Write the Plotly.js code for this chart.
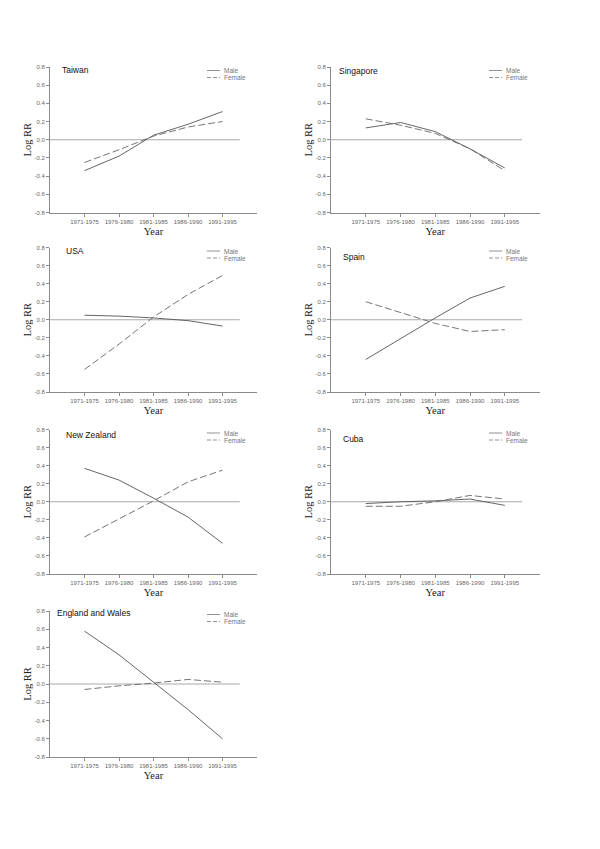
<!DOCTYPE html>
<html>
<head>
<meta charset="utf-8">
<script src="https://cdn.plot.ly/plotly-3.0.1.min.js"></script>
<style>html,body{margin:0;padding:0;background:#fff;}#chart{width:600px;height:849px;}</style>
</head>
<body>
<div id="chart"></div>
<script>
// ---- data ----
const periods = ['1971-1975', '1976-1980', '1981-1985', '1986-1990', '1991-1995'];
const countries = ['Taiwan', 'Singapore', 'USA', 'Spain', 'New Zealand', 'Cuba', 'England and Wales'];

const taiwanMale      = [-0.34, -0.18, 0.05, 0.17, 0.31];
const taiwanFemale    = [-0.25, -0.11, 0.04, 0.14, 0.20];
const singaporeMale   = [0.13, 0.19, 0.09, -0.10, -0.31];
const singaporeFemale = [0.23, 0.16, 0.07, -0.10, -0.34];
const usaMale         = [0.05, 0.04, 0.02, -0.01, -0.07];
const usaFemale       = [-0.55, -0.27, 0.03, 0.28, 0.49];
const spainMale       = [-0.44, -0.21, 0.02, 0.24, 0.37];
const spainFemale     = [0.20, 0.08, -0.04, -0.13, -0.11];
const nzMale          = [0.37, 0.24, 0.04, -0.17, -0.46];
const nzFemale        = [-0.39, -0.19, 0.01, 0.22, 0.35];
const cubaMale        = [-0.02, 0.00, 0.01, 0.03, -0.04];
const cubaFemale      = [-0.05, -0.05, 0.00, 0.07, 0.03];
const ewMale          = [0.58, 0.32, 0.02, -0.28, -0.60];
const ewFemale        = [-0.06, -0.02, 0.01, 0.05, 0.02];

const maleSeries   = [taiwanMale, singaporeMale, usaMale, spainMale, nzMale, cubaMale, ewMale];
const femaleSeries = [taiwanFemale, singaporeFemale, usaFemale, spainFemale, nzFemale, cubaFemale, ewFemale];

const yTicks = [-0.8, -0.6, -0.4, -0.2, 0.0, 0.2, 0.4, 0.6, 0.8];

// ---- layout geometry (pixels on the 600x849 page) ----
const W = 600, H = 849;
const cols = [[50, 257], [331, 539.5]];
const rows = [[67, 212.5], [247.5, 392], [429.5, 574], [611, 757]];
// title offsets (px from panel top-left) for each panel
const titleOff = [[10, 3], [6, 3.5], [14, 3], [10, 9.5], [14, 5.5], [10, 9], [5, 1.5]];

const axisGrey = '#8a8a8a';
const tickFont = {family: 'Liberation Sans, Arial, sans-serif', size: 6, color: '#666'};
const titleFont = {family: 'Liberation Serif, Times New Roman, serif', size: 10.5, color: '#222'};

const traces = [];
const layout = {
  width: W, height: H,
  margin: {l: 0, r: 0, t: 0, b: 0},
  paper_bgcolor: '#fff', plot_bgcolor: '#fff',
  showlegend: false,
  shapes: [], annotations: []
};

countries.forEach((name, i) => {
  const c = cols[i % 2], r = rows[Math.floor(i / 2)];
  const n = i + 1;
  const xa = 'x' + (n === 1 ? '' : n), ya = 'y' + (n === 1 ? '' : n);
  const xk = 'xaxis' + (n === 1 ? '' : n), yk = 'yaxis' + (n === 1 ? '' : n);

  layout[xk] = {
    domain: [c[0] / W, c[1] / W], anchor: ya,
    type: 'category', range: [-1, 5],
    showline: true, linecolor: axisGrey, linewidth: 1,
    ticks: 'outside', ticklen: 3, tickcolor: axisGrey, tickwidth: 1,
    showgrid: false, zeroline: false,
    tickfont: tickFont,
    title: {text: 'Year', font: titleFont, standoff: 3}
  };
  layout[yk] = {
    domain: [1 - r[1] / H, 1 - r[0] / H], anchor: xa,
    range: [-0.8, 0.8],
    tickmode: 'array', tickvals: yTicks, ticktext: yTicks.map(v => v.toFixed(1)),
    showline: true, linecolor: axisGrey, linewidth: 1,
    ticks: 'outside', ticklen: 3, tickcolor: axisGrey, tickwidth: 1,
    showgrid: false, zeroline: false,
    tickfont: tickFont,
    title: {text: 'Log RR', font: titleFont, standoff: 0}
  };

  traces.push({
    x: periods, y: maleSeries[i], xaxis: xa, yaxis: ya, name: 'Male',
    type: 'scatter', mode: 'lines', line: {color: '#555', width: 0.9}
  });
  traces.push({
    x: periods, y: femaleSeries[i], xaxis: xa, yaxis: ya, name: 'Female',
    type: 'scatter', mode: 'lines', line: {color: '#666', width: 0.9, dash: '7px,3px'}
  });

  // reference line at zero
  layout.shapes.push({
    type: 'line', xref: xa, yref: ya, x0: -1, x1: 4.5, y0: 0, y1: 0,
    line: {color: '#a8a8a8', width: 1}, layer: 'below'
  });

  // panel title
  const pw = c[1] - c[0], ph = r[1] - r[0];
  layout.annotations.push({
    text: name, xref: xa + ' domain', yref: ya + ' domain',
    x: titleOff[i][0] / pw, y: 1 - titleOff[i][1] / ph,
    xanchor: 'left', yanchor: 'middle', showarrow: false,
    font: {family: 'Liberation Sans, Arial, sans-serif', size: 8.5, color: '#111'}
  });

  // per-panel legend (Male solid, Female dashed)
  const lx0 = 0.758, lx1 = 0.821;
  const rowsY = [1 - 3.5 / ph, 1 - 10.5 / ph];
  [['Male', 'solid'], ['Female', '4px,2px']].forEach((it, k) => {
    layout.shapes.push({
      type: 'line', xref: xa + ' domain', yref: ya + ' domain',
      x0: lx0, x1: lx1, y0: rowsY[k], y1: rowsY[k],
      line: {color: '#777', width: 0.8, dash: it[1]}
    });
    layout.annotations.push({
      text: it[0], xref: xa + ' domain', yref: ya + ' domain',
      x: lx1 + 0.01, y: rowsY[k], xanchor: 'left', yanchor: 'middle', showarrow: false,
      font: {family: 'Liberation Sans, Arial, sans-serif', size: 6.5, color: '#777'}
    });
  });
});

Plotly.newPlot('chart', traces, layout, {staticPlot: true, displayModeBar: false});
</script>
</body>
</html>
